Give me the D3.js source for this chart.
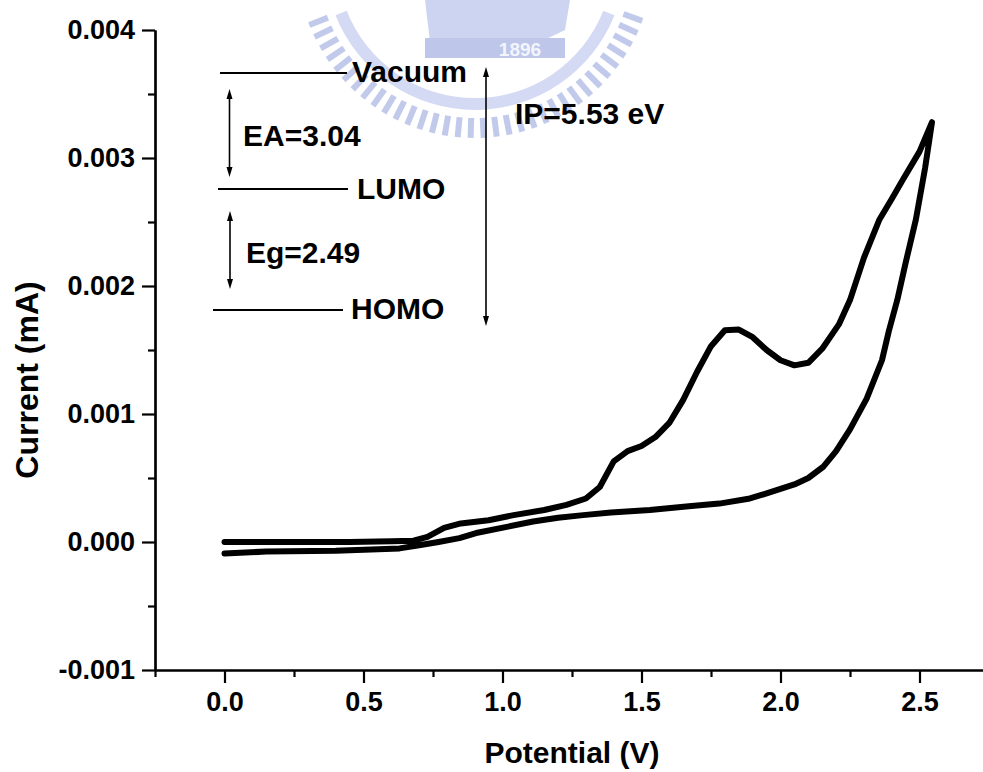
<!DOCTYPE html>
<html>
<head>
<meta charset="utf-8">
<script src="https://cdn.jsdelivr.net/npm/d3@7/dist/d3.min.js"></script>
<style>
  html, body { margin: 0; padding: 0; background: #fff; }
  svg { display: block; }
  text { font-family: "Liberation Sans", Arial, sans-serif; font-weight: bold; fill: #000; }
</style>
</head>
<body>
<svg id="chart" width="983" height="772"></svg>
<script>
// ---------------- data ----------------
const forwardV = [0.00, 0.15, 0.30, 0.45, 0.60, 0.68, 0.73, 0.79, 0.85, 0.95, 1.04, 1.15, 1.23, 1.30, 1.35, 1.40, 1.45, 1.50, 1.55, 1.60, 1.65, 1.70, 1.75, 1.80, 1.85, 1.90, 1.95, 2.00, 2.05, 2.10, 2.15, 2.21, 2.25, 2.30, 2.356, 2.40, 2.44, 2.50, 2.545];
const forwardI = [0.0000, 0.0000, 0.0000, 0.0000, 0.000005, 0.00001, 0.00004, 0.00011, 0.000145, 0.00017, 0.00021, 0.00025, 0.00029, 0.00034, 0.00043, 0.00063, 0.00071, 0.00075, 0.00082, 0.00093, 0.00111, 0.00133, 0.00153, 0.001655, 0.00166, 0.00160, 0.00150, 0.00142, 0.00138, 0.00140, 0.00151, 0.00170, 0.00189, 0.00222, 0.00252, 0.00268, 0.00283, 0.00305, 0.00328];
const reverseV = [2.545, 2.52, 2.487, 2.45, 2.42, 2.39, 2.365, 2.31, 2.25, 2.20, 2.155, 2.10, 2.05, 1.95, 1.89, 1.78, 1.67, 1.53, 1.39, 1.29, 1.20, 1.11, 1.02, 0.905, 0.845, 0.77, 0.70, 0.63, 0.40, 0.15, 0.00];
const reverseI = [0.00328, 0.00292, 0.00252, 0.00218, 0.00189, 0.00165, 0.00142, 0.00112, 0.00088, 0.00071, 0.00059, 0.00050, 0.00045, 0.00038, 0.00034, 0.00030, 0.00028, 0.00025, 0.00023, 0.00021, 0.00019, 0.00016, 0.00012, 0.00007, 0.00003, 0.00000, -0.000025, -0.00005, -0.000068, -0.000075, -0.000089];

const xTicks = [0.0, 0.5, 1.0, 1.5, 2.0, 2.5];
const xTickLabels = ["0.0", "0.5", "1.0", "1.5", "2.0", "2.5"];
const xMinorTicks = [-0.25, 0.25, 0.75, 1.25, 1.75, 2.25];
const yTicks = [-0.001, 0.000, 0.001, 0.002, 0.003, 0.004];
const yTickLabels = ["-0.001", "0.000", "0.001", "0.002", "0.003", "0.004"];
const yMinorTicks = [-0.0005, 0.0005, 0.0015, 0.0025, 0.0035];

const xTitle = "Potential (V)";
const yTitle = "Current (mA)";

// energy diagram labels
const levelNames = ["Vacuum", "LUMO", "HOMO"];
const gapLabels = ["EA=3.04", "Eg=2.49"];
const ipLabel = "IP=5.53 eV";

// ---------------- drawing ----------------
const svg = d3.select("#chart");

const x = d3.scaleLinear().domain([-0.25, 2.75]).range([155, 989]);
const y = d3.scaleLinear().domain([-0.001, 0.004]).range([670, 30]);

// watermark (decorative seal, faint)
const wm = svg.append("g").attr("opacity", 0.7);
const cx = 475, cy = -40;
for (let a = 20; a <= 160; a += 4.2) {
  const r = a * Math.PI / 180;
  const r1 = 158, r2 = 178;
  wm.append("line")
    .attr("x1", cx + r1 * Math.cos(r)).attr("y1", cy + r1 * Math.sin(r))
    .attr("x2", cx + r2 * Math.cos(r)).attr("y2", cy + r2 * Math.sin(r))
    .attr("stroke", "#a9b5e4").attr("stroke-width", 6);
}
wm.append("path")
  .attr("d", d3.arc()({innerRadius: 138, outerRadius: 150, startAngle: Math.PI * 0.62, endAngle: Math.PI * 1.38}))
  .attr("transform", `translate(${cx},${cy})`)
  .attr("fill", "#c3cbee");
wm.append("path")
  .attr("d", "M425,0 L570,0 L565,30 L540,42 L430,42 Z")
  .attr("fill", "#b9c3ec");
wm.append("rect").attr("x", 425).attr("y", 38).attr("width", 140).attr("height", 20).attr("fill", "#a3b0e2");
wm.append("text").attr("x", 520).attr("y", 56).attr("text-anchor", "middle")
  .style("font-size", "19px").style("fill", "#eef1fb").text("1896");

// axes
const axisStyle = g => {
  g.selectAll("path").attr("stroke", "#000").attr("stroke-width", 2.2);
  g.selectAll("line").attr("stroke", "#000").attr("stroke-width", 2.2);
  g.selectAll("text").style("font-size", "27px").attr("fill", "#000");
};

svg.append("g").attr("transform", "translate(0,670)")
  .call(d3.axisBottom(x).tickValues(xMinorTicks).tickSize(7).tickSizeOuter(0).tickFormat(""))
  .call(axisStyle);
svg.append("g").attr("transform", "translate(0,670)")
  .call(d3.axisBottom(x).tickValues(xTicks).tickSize(13).tickSizeOuter(0).tickPadding(9)
        .tickFormat((d, i) => xTickLabels[i]))
  .call(axisStyle);

svg.append("g").attr("transform", "translate(155,0)")
  .call(d3.axisLeft(y).tickValues(yMinorTicks).tickSize(7).tickSizeOuter(0).tickFormat(""))
  .call(axisStyle);
svg.append("g").attr("transform", "translate(155,0)")
  .call(d3.axisLeft(y).tickValues(yTicks).tickSize(13).tickSizeOuter(0).tickPadding(7)
        .tickFormat((d, i) => yTickLabels[i]))
  .call(axisStyle);

// axis titles
svg.append("text").attr("x", 572).attr("y", 763).attr("text-anchor", "middle")
  .style("font-size", "30px").text(xTitle);
svg.append("text").attr("transform", "translate(38,380) rotate(-90)").attr("text-anchor", "middle")
  .style("font-size", "32px").text(yTitle);

// CV curve
const pts = forwardV.map((v, i) => [v, forwardI[i]])
  .concat(reverseV.map((v, i) => [v, reverseI[i]]));
const line = d3.line().x(d => x(d[0])).y(d => y(d[1])).curve(d3.curveLinear);
svg.append("path").datum(pts).attr("d", line)
  .attr("fill", "none").attr("stroke", "#000").attr("stroke-width", 6)
  .attr("stroke-linejoin", "round").attr("stroke-linecap", "round");

// energy diagram (annotation)
const ann = svg.append("g");
const levels = [
  {x1: 220, x2: 347, y: 73, lx: 352, ly: 82},
  {x1: 218, x2: 348, y: 189, lx: 357, ly: 199},
  {x1: 213, x2: 343, y: 310, lx: 351, ly: 319}
];
levels.forEach((L, i) => {
  ann.append("line").attr("x1", L.x1).attr("x2", L.x2).attr("y1", L.y).attr("y2", L.y)
    .attr("stroke", "#000").attr("stroke-width", 2);
  ann.append("text").attr("x", L.lx).attr("y", L.ly).style("font-size", "30px").text(levelNames[i]);
});

function dblArrow(xp, y1, y2) {
  ann.append("line").attr("x1", xp).attr("x2", xp).attr("y1", y1 + 6).attr("y2", y2 - 6)
    .attr("stroke", "#000").attr("stroke-width", 1.6);
  ann.append("path").attr("d", `M${xp},${y1} L${xp - 3},${y1 + 10} L${xp + 3},${y1 + 10} Z`).attr("fill", "#000");
  ann.append("path").attr("d", `M${xp},${y2} L${xp - 3},${y2 - 10} L${xp + 3},${y2 - 10} Z`).attr("fill", "#000");
}
dblArrow(229.5, 89, 177);
dblArrow(230, 211, 289);
dblArrow(486, 67, 326);

ann.append("text").attr("x", 243).attr("y", 146).style("font-size", "30px").text(gapLabels[0]);
ann.append("text").attr("x", 246).attr("y", 263).style("font-size", "30px").text(gapLabels[1]);
ann.append("text").attr("x", 515).attr("y", 124).style("font-size", "30px").text(ipLabel);
</script>
</body>
</html>
